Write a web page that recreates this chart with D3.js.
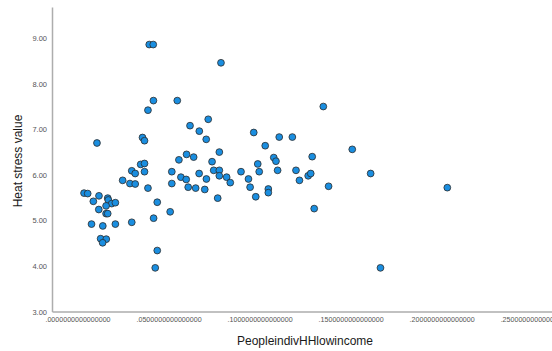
<!DOCTYPE html>
<html>
<head>
<meta charset="utf-8">
<script src="https://cdn.jsdelivr.net/npm/d3@7"></script>
<style>
  body { margin: 0; background: #fff; }
  svg { display: block; font-family: 'Liberation Sans', Arial, sans-serif; }
</style>
</head>
<body>
<svg id="chart" width="552" height="351"></svg>
<script>
// share of people in low-income households (x) and heat stress value (y)
const lowIncome = [
  .0394, .0416, .0417, .0548, .0387, .0107, .0618, .0669, .0357, .0368,
  .0599, .0638, .0557, .0347, .0368, .0298, .0317, .0368, .0518, .0568,
  .0597, .0668, .0248, .0036, .0056, .0118, .0087, .0166, .0169, .0188,
  .0208, .0157, .0117, .0157, .0166, .0077, .0139, .0208, .0298, .0127,
  .0158, .0138, .0288, .0317, .0387, .0518, .0608, .0649, .0438, .0418,
  .0509, .0438, .0427, .0788, .1350, .0718, .0707, .0968, .1031, .1108,
  .1180, .1509, .0779, .0739, .1078, .1090, .1289, .0990, .0998, .1099,
  .1200, .1267, .1281, .1610, .0748, .0779, .0779, .0898, .0819, .0939,
  .1219, .0839, .0948, .1048, .1048, .0699, .0979, .0770, .1379, .1300,
  .1664, .2031, .0708
]
const heatStress = [
  8.86, 8.86, 7.63, 7.63, 7.42, 6.70, 7.08, 6.96, 6.82, 6.75,
  6.45, 6.39, 6.33, 6.23, 6.25, 6.09, 6.03, 6.07, 6.07, 5.95,
  5.90, 6.03, 5.88, 5.60, 5.59, 5.54, 5.42, 5.49, 5.45, 5.37,
  5.39, 5.32, 5.24, 5.15, 5.15, 4.92, 4.88, 4.92, 4.96, 4.60,
  4.59, 4.51, 5.81, 5.80, 5.71, 5.81, 5.73, 5.71, 5.40, 5.05,
  5.19, 4.34, 3.96, 8.46, 7.50, 7.22, 6.78, 6.93, 6.64, 6.83,
  6.83, 6.56, 6.50, 6.29, 6.38, 6.30, 6.40, 6.24, 6.07, 6.10,
  6.10, 5.98, 6.03, 6.03, 6.10, 6.10, 5.98, 6.07, 5.95, 5.91,
  5.88, 5.83, 5.73, 5.69, 5.61, 5.68, 5.52, 5.49, 5.75, 5.26,
  3.96, 5.72, 5.91
]
const xTicks = [0, .05, .10, .15, .20, .25]
const yTicks = [3, 4, 5, 6, 7, 8, 9]
const xTitle = 'PeopleindivHHlowincome'
const yTitle = 'Heat stress value'

const width = 552
const height = 351
const margin = { top: 7, right: 0, bottom: 39.4, left: 52 }

const svg = d3.select('#chart')

const x = d3.scaleLinear()
  .domain([-0.014, 0.2606])
  .range([margin.left, width - margin.right])

const y = d3.scaleLinear()
  .domain([3, 9.684])
  .range([height - margin.bottom, margin.top])

const axisColor = '#adadad'
const labelColor = '#555'

// x axis
const xAxis = svg.append('g')
  .attr('transform', `translate(0,${height - margin.bottom})`)
  .call(d3.axisBottom(x)
    .tickValues(xTicks)
    .tickSize(0)
    .tickPadding(5)
    .tickFormat(d => d3.format('.16f')(d).replace(/^0/, '')))
xAxis.select('.domain').attr('stroke', axisColor).attr('stroke-width', 1.5)
xAxis.selectAll('text')
  .attr('fill', labelColor)
  .style('font-size', '7.1px')

// y axis
const yAxis = svg.append('g')
  .attr('transform', `translate(${margin.left},0)`)
  .call(d3.axisLeft(y)
    .tickValues(yTicks)
    .tickSize(0)
    .tickPadding(5)
    .tickFormat(d3.format('.2f')))
yAxis.select('.domain').attr('stroke', axisColor).attr('stroke-width', 1.5)
yAxis.selectAll('text')
  .attr('fill', labelColor)
  .style('font-size', '7.5px')

// points
const points = lowIncome.map((v, i) => ({ x: v, y: heatStress[i] }))

svg.append('g')
  .selectAll('circle')
  .data(points)
  .join('circle')
  .attr('cx', d => x(d.x))
  .attr('cy', d => y(d.y))
  .attr('r', 3.4)
  .attr('fill', '#1a8ee0')
  .attr('stroke', '#2b2b2b')
  .attr('stroke-width', 0.8)

// axis titles
svg.append('text')
  .attr('x', 305)
  .attr('y', 344.5)
  .attr('text-anchor', 'middle')
  .attr('fill', '#1a1a1a')
  .style('font-size', '12px')
  .text(xTitle)

svg.append('text')
  .attr('transform', 'translate(22,161) rotate(-90)')
  .attr('text-anchor', 'middle')
  .attr('fill', '#1a1a1a')
  .style('font-size', '12px')
  .text(yTitle)
</script>
</body>
</html>
